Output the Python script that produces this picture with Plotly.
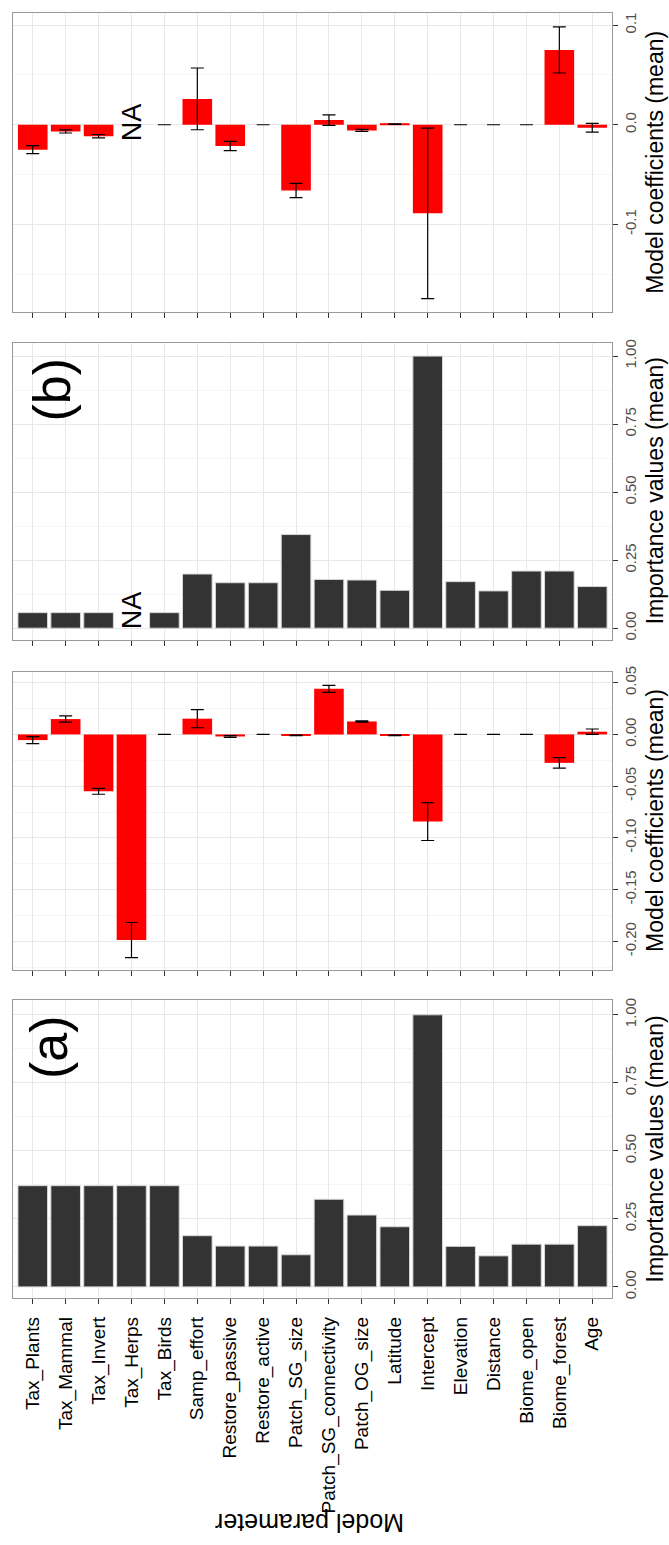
import plotly.graph_objects as go

# ---------------- data ----------------
categories = ["Tax_Plants", "Tax_Mammal", "Tax_Invert", "Tax_Herps", "Tax_Birds",
              "Samp_effort", "Restore_passive", "Restore_active", "Patch_SG_size",
              "Patch_SG_connectivity", "Patch_OG_size", "Latitude", "Intercept",
              "Elevation", "Distance", "Biome_open", "Biome_forest", "Age"]

# panel (b) - model coefficients (mean) and their error
b_coef_mean = [-0.025, -0.0067, -0.0115, None, 0.0, 0.026, -0.0213, 0.0, -0.066,
               0.0047, -0.0057, 0.0007, -0.089, 0.0, 0.0, 0.0, 0.0752, -0.003]
b_coef_err = [0.004, 0.0016, 0.0017, None, 0.0, 0.031, 0.0047, 0.0, 0.0072,
              0.0053, 0.001, 0.0003, 0.0857, 0.0, 0.0, 0.0, 0.0232, 0.0043]
# panel (b) - importance values (mean)
b_importance = [0.057, 0.057, 0.057, None, 0.057, 0.199, 0.167, 0.167, 0.344,
                0.179, 0.177, 0.139, 1.0, 0.171, 0.137, 0.21, 0.21, 0.153]

# panel (a) - model coefficients (mean) and their error
a_coef_mean = [-0.0055, 0.0148, -0.055, -0.1987, 0.0, 0.0152, -0.002, 0.0, -0.001,
               0.044, 0.0125, -0.001, -0.0842, 0.0, 0.0, 0.0, -0.0275, 0.0026]
a_coef_err = [0.0034, 0.003, 0.0028, 0.017, 0.0, 0.0088, 0.0008, 0.0, 0.0003,
              0.0034, 0.0006, 0.0003, 0.0183, 0.0, 0.0, 0.0, 0.005, 0.0026]
# panel (a) - importance values (mean)
a_importance = [0.372, 0.372, 0.372, 0.372, 0.372, 0.188, 0.150, 0.150, 0.118,
                0.322, 0.264, 0.221, 1.0, 0.149, 0.114, 0.157, 0.157, 0.225]

# tick values / labels
coef_b_ticks = [-0.1, 0.0, 0.1]
coef_b_ticktext = ["-0.1", "0.0", "0.1"]
coef_b_minor = [-0.15, -0.05, 0.05]
imp_ticks = [0.0, 0.25, 0.5, 0.75, 1.0]
imp_ticktext = ["0.00", "0.25", "0.50", "0.75", "1.00"]
imp_minor = [0.125, 0.375, 0.625, 0.875]
coef_a_ticks = [-0.20, -0.15, -0.10, -0.05, 0.0, 0.05]
coef_a_ticktext = ["-0.20", "-0.15", "-0.10", "-0.05", "0.00", "0.05"]
coef_a_minor = [-0.225, -0.175, -0.125, -0.075, -0.025, 0.025]

# ---------------- styling ----------------
W, H = 669, 1545
ML, MR = 13, 57
FONT = "Liberation Sans"
RED = "#FF0000"
DARK = "#333333"
GRID = "#E8E8E8"
MINOR = "#F6F6F6"
FRAME = "#9A9A9A"
TICKC = "#4D4D4D"

# panel pixel extents (top, bottom)
panels = [(7.3, 307.7), (338.3, 636.7), (669.0, 968.3), (999.0, 1298.3)]


def dom(p):
    t, b = p
    return [1 - b / H, 1 - t / H]


fig = go.Figure()

err_style = dict(type="data", color="black", thickness=1.2, width=6.5, visible=True)

fig.add_trace(go.Bar(x=categories, y=b_coef_mean, width=0.9, marker=dict(color=RED, line=dict(width=0)),
                     error_y=dict(array=b_coef_err, **err_style), xaxis="x", yaxis="y", showlegend=False))
fig.add_trace(go.Bar(x=categories, y=b_importance, width=0.9,
                     marker=dict(color=DARK, line=dict(color="#D6D6D6", width=1)),
                     xaxis="x2", yaxis="y2", showlegend=False))
fig.add_trace(go.Bar(x=categories, y=a_coef_mean, width=0.9, marker=dict(color=RED, line=dict(width=0)),
                     error_y=dict(array=a_coef_err, **err_style), xaxis="x3", yaxis="y3", showlegend=False))
fig.add_trace(go.Bar(x=categories, y=a_importance, width=0.9,
                     marker=dict(color=DARK, line=dict(color="#D6D6D6", width=1)),
                     xaxis="x4", yaxis="y4", showlegend=False))

xcommon = dict(type="category", categoryorder="array", categoryarray=categories,
               range=[-0.6, len(categories) - 0.4], showgrid=True, gridcolor=GRID, gridwidth=1,
               showline=True, linecolor=FRAME, linewidth=1, mirror=True,
               ticks="outside", ticklen=5, tickwidth=1, tickcolor=DARK, zeroline=False,
               domain=[0, 1], fixedrange=True)

yranges = [[-0.1884, 0.112], [-0.0428, 1.049], [-0.2275, 0.0603], [-0.0424, 1.0527]]
yticks = [(coef_b_ticks, coef_b_ticktext, coef_b_minor),
          (imp_ticks, imp_ticktext, imp_minor),
          (coef_a_ticks, coef_a_ticktext, coef_a_minor),
          (imp_ticks, imp_ticktext, imp_minor)]

layout = {}
for i in range(4):
    sx = "" if i == 0 else str(i + 1)
    xa = dict(xcommon)
    xa["anchor"] = "y" + sx
    if i < 3:
        xa["showticklabels"] = False
    else:
        xa["showticklabels"] = True
        xa["tickangle"] = -90
        xa["tickfont"] = dict(family=FONT, size=19, color="black")
        xa["ticklabelstandoff"] = 5
    if i > 0:
        xa["matches"] = "x"
    layout["xaxis" + sx] = xa
    tv, tt, mv = yticks[i]
    layout["yaxis" + sx] = dict(
        domain=dom(panels[i]), anchor="x" + sx, side="right", range=yranges[i],
        tickmode="array", tickvals=tv, ticktext=tt, tickangle=-90,
        tickfont=dict(family=FONT, size=15, color=TICKC),
        ticks="outside", ticklen=5, tickwidth=1, tickcolor=DARK,
        showgrid=True, gridcolor=GRID, gridwidth=1,
        minor=dict(tickmode="array", tickvals=mv, showgrid=True, gridcolor=MINOR, gridwidth=1, ticks=""),
        showline=True, linecolor=FRAME, linewidth=1, mirror=True, zeroline=False, fixedrange=True)

annotations = []
titles = ["Model coefficients (mean)", "Importance values (mean)",
          "Model coefficients (mean)", "Importance values (mean)"]
for i, t in enumerate(titles):
    top, bot = panels[i]
    annotations.append(dict(text=t, xref="paper", yref="paper",
                            x=(655 - ML) / (W - ML - MR), y=1 - (top + bot) / 2 / H,
                            xanchor="center", yanchor="middle", textangle=-90, showarrow=False,
                            font=dict(family=FONT, size=23, color="black")))

annotations.append(dict(text="(b)", xref="x2", yref="y2", x=0.59, y=0.878, textangle=-90,
                        showarrow=False, xanchor="center", yanchor="middle",
                        font=dict(family=FONT, size=52, color="black")))
annotations.append(dict(text="(a)", xref="x4", yref="y4", x=0.49, y=0.881, textangle=-90,
                        showarrow=False, xanchor="center", yanchor="middle",
                        font=dict(family=FONT, size=52, color="black")))
annotations.append(dict(text="NA", xref="x", yref="y", x=3, y=0.003, textangle=-90,
                        showarrow=False, xanchor="center", yanchor="middle",
                        font=dict(family=FONT, size=27, color="black")))
annotations.append(dict(text="NA", xref="x2", yref="y2", x=3, y=0.068, textangle=-90,
                        showarrow=False, xanchor="center", yanchor="middle",
                        font=dict(family=FONT, size=27, color="black")))
annotations.append(dict(text="Model parameter", xref="paper", yref="paper",
                        x=(310 - ML) / (W - ML - MR), y=1 - 1524 / H, textangle=180,
                        showarrow=False, xanchor="center", yanchor="middle",
                        font=dict(family=FONT, size=25, color="black")))

fig.update_layout(width=W, height=H, autosize=False,
                  margin=dict(l=ML, r=MR, t=0, b=0, pad=0),
                  paper_bgcolor="white", plot_bgcolor="white",
                  bargap=0.1, showlegend=False, annotations=annotations,
                  font=dict(family=FONT), **layout)

fig.write_html("out.html")
